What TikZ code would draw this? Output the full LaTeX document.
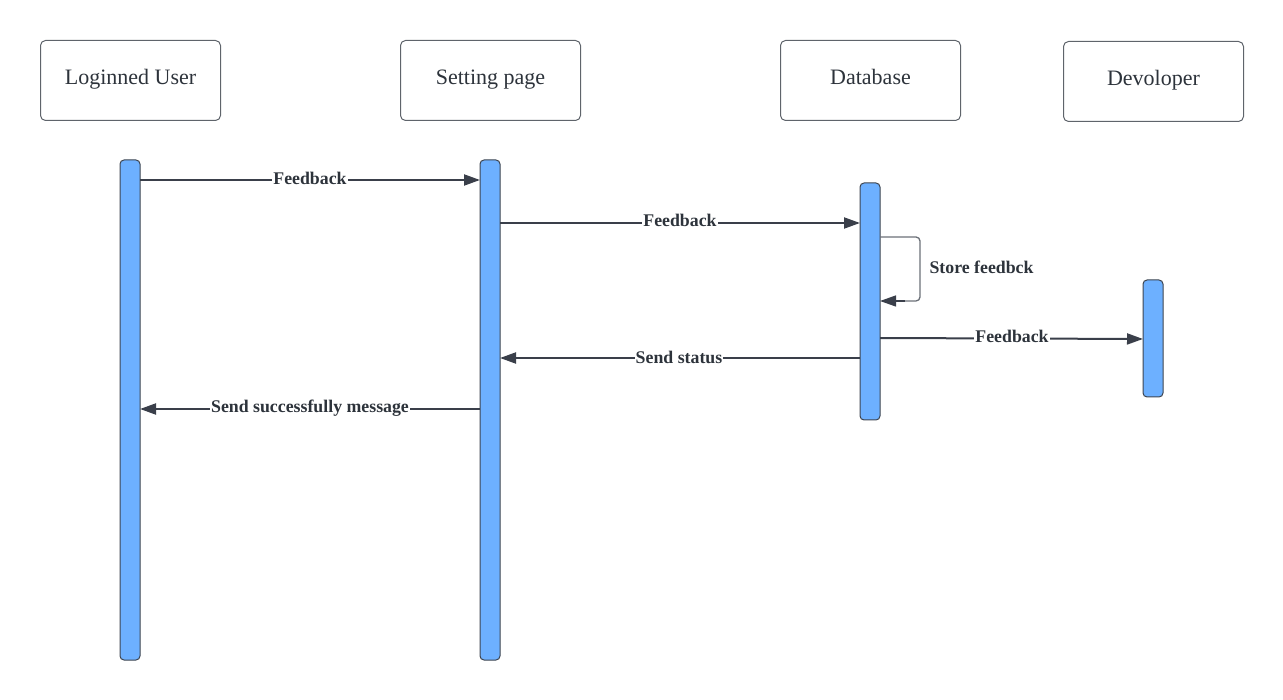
\documentclass[tikz,border=0pt]{standalone}
\usepackage{fontspec}
\setmainfont{Liberation Serif}
\usetikzlibrary{arrows.meta,calc}
\definecolor{barfill}{HTML}{6DB0FF}
\definecolor{barline}{HTML}{3E4550}
\definecolor{boxline}{HTML}{5F646B}
\definecolor{arrowc}{HTML}{3A3F4A}
\definecolor{txt}{HTML}{2D333B}
\definecolor{loopc}{HTML}{6B7078}
\tikzset{
  actor/.style={draw=boxline, line width=1pt, rounded corners=5pt, fill=white,
    minimum width=180pt, minimum height=80pt, inner sep=0pt, text=txt,
    text height=14pt, text depth=5.4pt,
    font=\fontsize{22}{24}\selectfont, anchor=north west},
  bar/.style={draw=barline, line width=1pt, fill=barfill, rounded corners=4pt},
  msg/.style={draw=arrowc, line width=2pt, -{Triangle[length=16pt,width=11pt]}},
  lbl/.style={fill=white, inner sep=1pt, text=txt, font=\bfseries\fontsize{17.8}{19}\selectfont},
}
\begin{document}
\begin{tikzpicture}[x=1pt,y=-1pt]
\useasboundingbox (0,0) rectangle (1283,700);
% actors
\node[actor] (u) at (40,40) {Loginned User};
\node[actor] (s) at (400,40) {Setting page};
\node[actor] (d) at (780,40) {Database};
\node[actor] (v) at (1063,41) {Devoloper};
% activation bars
\draw[bar] (120,160) rectangle (140,660);
\draw[bar] (480,160) rectangle (500,660);
\draw[bar] (860,183) rectangle (880,420);
\draw[bar] (1143,280) rectangle (1163,397);
% coordinates
\coordinate (a1s) at (140,180); \coordinate (a1e) at (480,180);
\coordinate (a2s) at (500,223); \coordinate (a2e) at (860,223);
\coordinate (l1) at (880,237); \coordinate (l2) at (920,237);
\coordinate (l3) at (920,301); \coordinate (l4) at (880,301);
\coordinate (l5) at (905,301);
\coordinate (a4s) at (880,338); \coordinate (a4e) at (1143,339);
\coordinate (a5s) at (860,358); \coordinate (a5e) at (500,358);
\coordinate (a6s) at (480,409); \coordinate (a6e) at (140,409);
% messages
\draw[msg] (a1s) -- (a1e);
\node[lbl] at (310,178) {Feedback};
\draw[msg] (a2s) -- (a2e);
\node[lbl] at (680,220) {Feedback};
\draw[draw=loopc, line width=1.3pt, rounded corners=4pt] (l1) -- (l2) -- (l3) -- (l5);
\draw[msg, line width=1.3pt] (l5) -- (l4);
\node[text=txt, font=\bfseries\fontsize{17.8}{19}\selectfont, anchor=west] at (926,267) {Store feedbck};
\draw[msg] (a4s) -- (a4e);
\node[lbl] at (1012,336) {Feedback};
\draw[msg] (a5s) -- (a5e);
\node[lbl] at (679,357) {Send status};
\draw[msg] (a6s) -- (a6e);
\node[lbl] at (310,408) {Send successfully message};
\end{tikzpicture}
\end{document}
